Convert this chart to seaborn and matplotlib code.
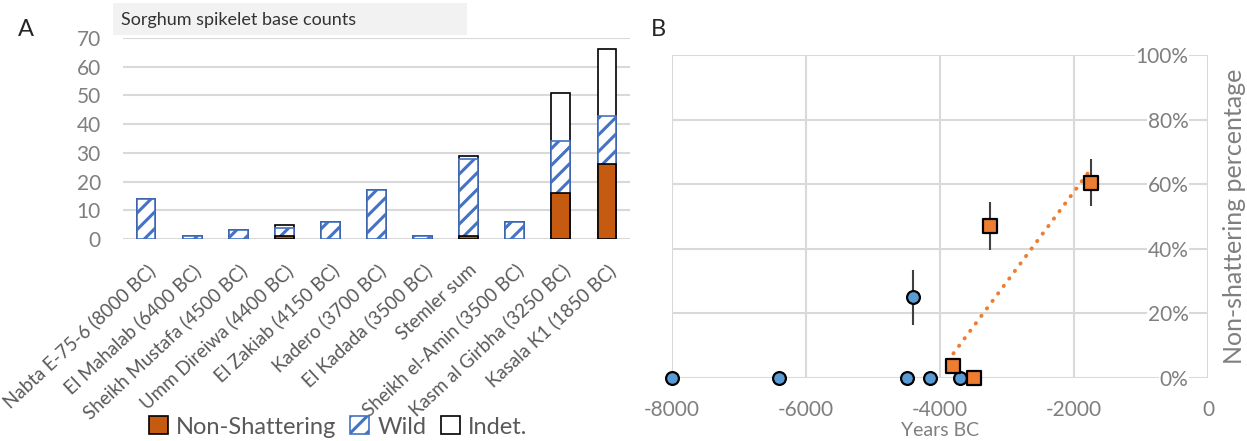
import matplotlib
matplotlib.use("Agg")
import matplotlib.pyplot as plt
from matplotlib.patches import Patch, Rectangle
import seaborn as sns

# Panel A: spikelet base counts per site
sites = ["Nabta E-75-6 (8000 BC)", "El Mahalab (6400 BC)", "Sheikh Mustafa (4500 BC)",
         "Umm Direiwa (4400 BC)", "El Zakiab (4150 BC)", "Kadero (3700 BC)",
         "El Kadada (3500 BC)", "Stemler sum", "Sheikh el-Amin (3500 BC)",
         "Kasm al Girbha (3250 BC)", "Kasala K1 (1850 BC)"]
non_shattering = [0, 0, 0, 1, 0, 0, 0, 1, 0, 16, 26]
wild = [14, 1, 3, 3, 6, 17, 1, 27, 6, 18, 17]
indet = [0, 0, 0, 1, 0, 0, 0, 1, 0, 17, 23]

# Panel B: non-shattering percentage over time
wild_years = [-8000, -6400, -4500, -4400, -4150, -3700]
wild_pct = [0, 0, 0, 25, 0, 0]
dom_years = [-3800, -3500, -3250, -1750]
dom_pct = [3.6, 0, 47, 60.5]
err_years = [-4400, -3250, -1750]
err_pct = [25, 47, 60.5]
err_size = [8.5, 7.4, 7.2]

ORANGE_BAR = "#c55a11"
BLUE = "#4472c4"
GRID = "#d9d9d9"
GREY = "#7f7f7f"

sns.set_style("white")
plt.rcParams["font.family"] = ["Lato", "DejaVu Sans"]
plt.rcParams["hatch.linewidth"] = 2.2

W, H = 1247, 441
fig = plt.figure(figsize=(W / 100, H / 100), dpi=100)
axA = fig.add_axes([123 / W, 1 - 239 / H, (630 - 123) / W, (239 - 38) / H])
axB = fig.add_axes([672 / W, 1 - 378 / H, (1208 - 672) / W, (378 - 55) / H])

# ---- Panel A: stacked bars drawn as overlaid cumulative layers
ns_wild = [a + b for a, b in zip(non_shattering, wild)]
total = [a + b for a, b in zip(ns_wild, indet)]
layers = [
    (total, "white", "black", 1.2, None),
    (ns_wild, "white", BLUE, 1.2, "//"),
    (non_shattering, ORANGE_BAR, "black", 1.2, None),
]
for vals, fc, ec, lw, hatch in layers:
    n0 = len(axA.patches)
    sns.barplot(x=sites, y=vals, order=sites, ax=axA, color=fc, saturation=1,
                width=0.41, errorbar=None)
    for p in axA.patches[n0:]:
        p.set_facecolor(fc)
        p.set_edgecolor(ec)
        p.set_linewidth(lw if p.get_height() > 0 else 0)
        if hatch:
            p.set_hatch(hatch)

axA.set_xlim(-0.5, 10.5)
axA.set_ylim(0, 70)
axA.set_yticks(range(0, 71, 10))
axA.set_xlabel("")
axA.set_ylabel("")
axA.yaxis.grid(True, color=GRID, lw=1.5)
axA.set_axisbelow(True)
for s in axA.spines.values():
    s.set_visible(False)
axA.set_xticks(range(len(sites)))
axA.set_xticklabels(sites, rotation=43, ha="right", va="top", rotation_mode="anchor",
                    fontsize=13.5, color="#595959")
axA.tick_params(axis="y", length=0, pad=16, labelsize=15, labelcolor=GREY)
axA.tick_params(axis="x", length=0, pad=16)

handles = [Patch(facecolor=ORANGE_BAR, edgecolor="black", lw=1.2),
           Patch(facecolor="white", edgecolor=BLUE, hatch="//", lw=1.2),
           Patch(facecolor="white", edgecolor="black", lw=1.2)]
fig.legend(handles, ["Non-Shattering", "Wild", "Indet."], loc="center",
           bbox_to_anchor=(338 / W, 1 - 427 / H), ncol=3, frameon=False,
           fontsize=17, labelcolor="#595959", handlelength=0.8, handleheight=0.8,
           handletextpad=0.35, columnspacing=0.6, borderpad=0)

fig.add_artist(Rectangle((113 / W, 1 - 35 / H), (467 - 113) / W, 32 / H,
                         transform=fig.transFigure, facecolor="#f2f2f2",
                         edgecolor="none", zorder=0))
fig.text(121 / W, 1 - 20 / H, "Sorghum spikelet base counts", ha="left",
         va="center", fontsize=13, color="#333333")
fig.text(26 / W, 1 - 29 / H, "A", ha="center", va="center", fontsize=17)
fig.text(658 / W, 1 - 29 / H, "B", ha="center", va="center", fontsize=17)

# ---- Panel B: scatter with error bars and dotted trendline
axB.errorbar(err_years, err_pct, yerr=err_size, fmt="none", ecolor="#404040",
             elinewidth=1.5, capsize=0, zorder=3)
sns.regplot(x=dom_years, y=dom_pct, ax=axB, scatter=False, ci=None, truncate=True,
            line_kws=dict(color="#ed7d31", lw=2.8, ls=(0, (0.1, 2.3)),
                          dash_capstyle="round", zorder=2))
sns.scatterplot(x=wild_years, y=wild_pct, ax=axB, marker="o", s=85,
                color="#5b9bd5", edgecolor="black", linewidth=1.6, zorder=4,
                clip_on=False)
sns.scatterplot(x=dom_years, y=dom_pct, ax=axB, marker="s", s=110,
                color="#ed7d31", edgecolor="black", linewidth=1.6, zorder=5,
                clip_on=False)

axB.set_xlim(-8000, 0)
axB.set_ylim(0, 100)
xt = [-8000, -6000, -4000, -2000, 0]
axB.set_xticks(xt)
axB.set_xticklabels([str(v) for v in xt])
yt = list(range(0, 101, 20))
axB.yaxis.tick_right()
axB.set_yticks(yt)
axB.set_yticklabels([f"{v}%" for v in yt])
axB.grid(True, color=GRID, lw=1.5)
axB.set_axisbelow(True)
for s in axB.spines.values():
    s.set_visible(False)
axB.tick_params(axis="x", length=0, pad=16, labelsize=15, labelcolor=GREY)
axB.tick_params(axis="y", length=0, pad=-14, labelsize=15, labelcolor=GREY)
for t in axB.yaxis.get_major_ticks():
    t.label2.set_ha("right")
    t.label2.set_bbox(dict(facecolor="white", edgecolor="none", pad=0.5))
axB.set_xlabel("Years BC", fontsize=14, color=GREY)
axB.xaxis.set_label_coords(0.5, -0.135)
axB.yaxis.set_label_position("right")
axB.set_ylabel("Non-shattering percentage", fontsize=18, color=GREY, labelpad=11)

fig.savefig("out.png", dpi=100)
